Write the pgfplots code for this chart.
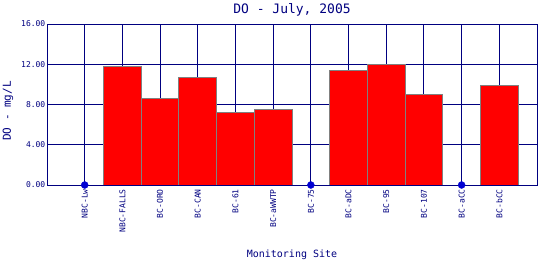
\documentclass[border=0pt]{standalone}
\usepackage{pgfplots}
\pgfplotsset{compat=1.18}
\usepackage{fontspec}
\setmainfont{DejaVu Sans Mono}
\definecolor{navy}{RGB}{0,0,128}
\definecolor{dotblue}{RGB}{0,0,210}
\definecolor{edgegray}{RGB}{128,128,128}
\begin{document}
\begin{tikzpicture}
\path[use as bounding box] (0,0) rectangle (540bp,260bp);
\begin{axis}[
  at={(47bp,75bp)}, anchor=south west,
  scale only axis, width=490bp, height=161bp,
  xmin=-1, xmax=12, ymin=0, ymax=16,
  xtick={0,...,11},
  xticklabels={NBC-Lw,NBC-FALLS,BC-ORO,BC-CAN,BC-61,BC-aWWTP,BC-75,BC-aDC,BC-95,BC-107,BC-aCC,BC-bCC},
  ytick={0,4,8,12,16},
  grid=major,
  major grid style={navy, line width=1bp},
  axis line style={navy, line width=1bp},
  tick style={draw=none},
  /pgf/number format/assume math mode=true,
  yticklabel={\pgfmathprintnumber[fixed,fixed zerofill,precision=2]{\tick}},
  yticklabel style={font=\fontsize{8bp}{8bp}\selectfont, text=navy, inner sep=1.5bp},
  xticklabel style={rotate=90, anchor=east, font=\fontsize{8bp}{8bp}\selectfont, text=navy, inner sep=4bp},
  every axis title shift=0pt,
  title={DO - July, 2005},
  title style={at={(rel axis cs:0.5,1.087)}, anchor=center, font=\fontsize{13bp}{13bp}\selectfont, text=navy},
  xlabel={Monitoring Site},
  xlabel style={at={(rel axis cs:0.5,-0.435)}, anchor=center, font=\fontsize{10bp}{10bp}\selectfont, text=navy},
  ylabel={DO - mg/L},
  ylabel style={at={(rel axis cs:-0.0796,0.46)}, anchor=center, font=\fontsize{11bp}{11bp}\selectfont, text=navy},
]
\addplot[ybar, bar width=1, fill=red, draw=edgegray, line width=1bp] coordinates {
  (1,11.8) (2,8.6) (3,10.7) (4,7.23) (5,7.55) (7,11.33) (8,12.0) (9,9.0) (11,9.9)
};
\addplot[only marks, mark=*, mark size=3.5bp, color=dotblue] coordinates {
  (0,0) (6,0) (10,0)
};
\end{axis}
\end{tikzpicture}
\end{document}
